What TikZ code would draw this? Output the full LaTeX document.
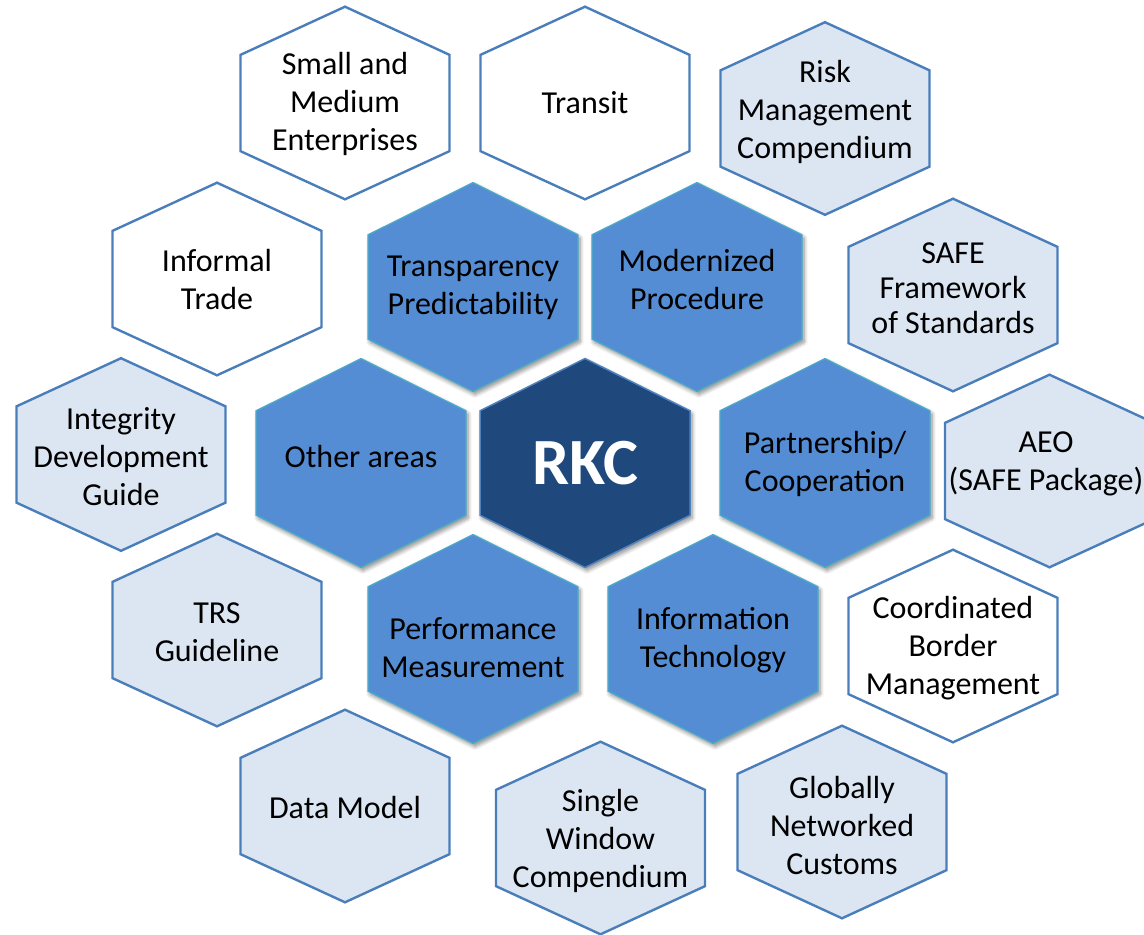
\documentclass[tikz,border=0pt]{standalone}
\usepackage{fontspec}
\setmainfont{Carlito}
\usetikzlibrary{shadows.blur}
\definecolor{outerline}{HTML}{4A7EBB}
\definecolor{lightfill}{HTML}{DCE6F2}
\definecolor{innerfill}{HTML}{548DD4}
\definecolor{innerline}{HTML}{4BACC6}
\definecolor{corefill}{HTML}{1F497D}
\definecolor{coreline}{HTML}{4F81BD}
\newcommand\hexpath[4]{(#1,#2-#4) -- (#1+#3,#2-#4/2) -- (#1+#3,#2+#4/2) -- (#1,#2+#4) -- (#1-#3,#2+#4/2) -- (#1-#3,#2-#4/2) -- cycle}
\tikzset{
  outerwhite/.style={draw=outerline, line width=2.4pt, fill=white, line join=miter},
  outerlight/.style={draw=outerline, line width=2.4pt, fill=lightfill, line join=miter},
  innerhex/.style={draw=innerline, line width=1.2pt, fill=innerfill,
    blur shadow={shadow xshift=2pt, shadow yshift=-3pt, shadow blur radius=4pt, shadow blur steps=6, shadow opacity=45}},
  corehex/.style={draw=coreline, line width=1.5pt, fill=corefill,
    blur shadow={shadow xshift=2pt, shadow yshift=-3pt, shadow blur radius=4pt, shadow blur steps=6, shadow opacity=45}},
  label/.style={align=center, text=black, font=\fontsize{32}{38}\selectfont, inner sep=0pt},
  corelabel/.style={align=center, text=white, font=\fontsize{66}{70}\selectfont\bfseries, inner sep=0pt}
}
\begin{document}
\begin{tikzpicture}[x=1pt, y=-1pt]
\useasboundingbox (0,0) rectangle (1144,935);
% outer ring
\path[outerwhite] \hexpath{345}{103}{104.5}{96.3};
\node[label] (sme) at (345,104) {Small and\\Medium\\Enterprises};
\path[outerwhite] \hexpath{585}{103}{104.5}{96.3};
\node[label] (transit) at (585,103) {Transit};
\path[outerlight] \hexpath{825}{118.5}{104.5}{96.3};
\node[label] (risk) at (825,112) {Risk\\Management\\Compendium};
\path[outerlight] \hexpath{953}{295}{104.5}{96.3};
\node[label, font=\fontsize{32}{35}\selectfont] (safe) at (953,288) {SAFE\\Framework\\of Standards};
\path[outerlight] \hexpath{1049.5}{471}{104.5}{96.3};
\node[label] (aeo) at (1046,464) {AEO\\(SAFE Package)};
\path[outerwhite] \hexpath{953}{646}{104.5}{96.3};
\node[label] (cbm) at (953,648) {Coordinated\\Border\\Management};
\path[outerlight] \hexpath{842}{822}{104.5}{96.3};
\node[label] (gnc) at (842,825) {Globally\\Networked\\Customs};
\path[outerlight] \hexpath{600.5}{838}{104.5}{96.3};
\node[label] (swc) at (600.5,841) {Single\\Window\\Compendium};
\path[outerlight] \hexpath{345}{806}{104.5}{96.3};
\node[label] (dm) at (345,807) {Data Model};
\path[outerlight] \hexpath{217}{630}{104.5}{96.3};
\node[label] (trs) at (217,632) {TRS\\Guideline};
\path[outerlight] \hexpath{121}{454.5}{104.5}{96.3};
\node[label] (idg) at (121,457) {Integrity\\Development\\Guide};
\path[outerwhite] \hexpath{217}{279}{104.5}{96.3};
\node[label] (inf) at (217,280) {Informal\\Trade};
% inner ring
\path[innerhex] \hexpath{473}{287}{105}{104.5};
\node[label] (tp) at (473,288) {Transparency\\Predictability};
\path[innerhex] \hexpath{697}{287}{105}{104.5};
\node[label] (mp) at (697,280) {Modernized\\Procedure};
\path[innerhex] \hexpath{361}{463}{105}{104.5};
\node[label] (oa) at (361,457) {Other areas};
\path[innerhex] \hexpath{825}{463}{105}{104.5};
\node[label] (pc) at (825,464) {Partnership/\\Cooperation};
\path[innerhex] \hexpath{473}{639}{105}{104.5};
\node[label] (pm) at (473,648) {Performance\\Measurement};
\path[innerhex] \hexpath{713}{639}{105}{104.5};
\node[label] (it) at (713,640) {Information\\Technology};
% core
\path[corehex] \hexpath{585}{463}{105}{104.5};
\node[corelabel] (rkc) at (585,463) {RKC};
\end{tikzpicture}
\end{document}
